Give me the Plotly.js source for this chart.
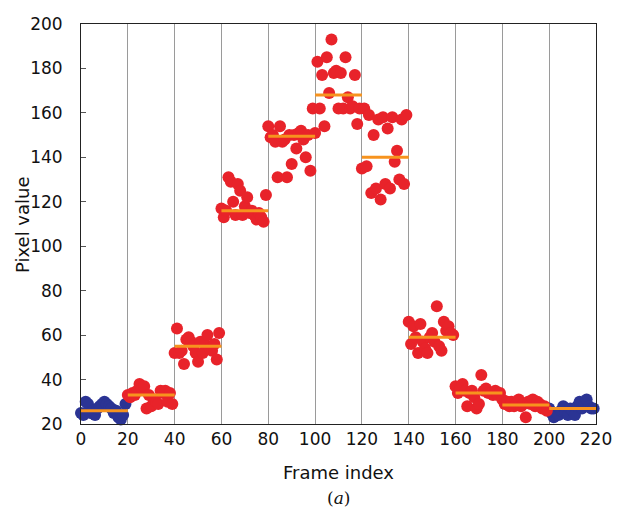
<!DOCTYPE html>
<html><head><meta charset="utf-8">
<script src="https://cdn.plot.ly/plotly-3.0.1.min.js"></script>
<style>html,body{margin:0;padding:0;background:#fff}#c{width:618px;height:507px}</style>
</head><body><div id="c"></div>
<script>
// Pixel values per frame (frames 0..219)
const blueStart = [25,24,30,29,25,26,24,27,28,29,30,29,28,27,25,26,23,22,24,29]; // frames 0-19
const redValues = [
  33,32,34,33,35,38,36,37,27,33,28,31,30,29,35,34,35,30,34,29,          // 20-39
  52,63,52,53,47,58,59,57,55,52,48,57,52,56,60,54,53,56,49,61,          // 40-59
  117,113,116,131,129,120,114,128,125,114,118,122,115,116,114,112,115,113,111,123, // 60-79
  154,149,150,147,131,154,147,148,131,150,137,150,144,151,152,148,140,150,134,162, // 80-99
  151,183,162,177,154,185,169,193,178,179,162,178,162,185,167,162,163,177,155,162, // 100-119
  135,162,136,159,124,150,126,157,121,158,128,153,126,158,138,143,130,157,128,159, // 120-139
  66,56,64,59,52,65,57,54,52,59,61,57,73,55,53,66,62,64,61,60,          // 140-159
  37,34,36,38,35,28,34,35,32,27,29,42,35,36,34,34,33,35,33,34,          // 160-179
  31,29,30,28,30,28,29,31,28,29,23,30,29,31,28,30,29,27,28,26           // 180-199
];
const blueEnd = [27,25,23,25,24,26,28,25,24,27,26,24,28,30,27,29,31,28,27,27]; // frames 200-219
// Segment means (orange lines)
const segStarts = [0,20,40,60,80,100,120,140,160,180,200];
const segMeans  = [26,33,55,116,149.5,168,140,59,34,28.5,27];
const xTicks = [0,20,40,60,80,100,120,140,160,180,200,220];
const yTicks = [20,40,60,80,100,120,140,160,180,200];

const bx = [], by = [];
blueStart.forEach((v,i)=>{bx.push(i); by.push(v);});
blueEnd.forEach((v,i)=>{bx.push(200+i); by.push(v);});
const rx = redValues.map((v,i)=>20+i);

const traces = [
  {x:bx, y:by, mode:'markers', type:'scatter', cliponaxis:false,
   marker:{color:'#2B3494', size:12}, hoverinfo:'none'},
  {x:rx, y:redValues, mode:'markers', type:'scatter', cliponaxis:false,
   marker:{color:'#E8232A', size:12}, hoverinfo:'none'}
];
const lx = [], ly = [];
segStarts.forEach((s,i)=>{lx.push(s, s+20, null); ly.push(segMeans[i], segMeans[i], null);});
traces.push({x:lx, y:ly, mode:'lines', type:'scatter', line:{color:'#F7931E', width:3}, hoverinfo:'none'});

const font = 'DejaVu Sans, Verdana, sans-serif';
const layout = {
  width:618, height:507, showlegend:false,
  paper_bgcolor:'#fff', plot_bgcolor:'#fff',
  margin:{l:81, r:22, t:24, b:83},
  font:{family:font, size:17, color:'#111'},
  xaxis:{range:[0,220], tickvals:xTicks, ticktext:xTicks.map(String),
    showgrid:true, gridcolor:'#9a9a9a', gridwidth:1, zeroline:false,
    showline:true, linecolor:'#222', linewidth:1, mirror:true,
    ticks:'', tickfont:{size:17, family:font},
    title:{text:'Frame index', font:{size:18, family:font}, standoff:17}},
  yaxis:{range:[20,200], tickvals:yTicks, ticktext:yTicks.map(String),
    showgrid:false, zeroline:false,
    showline:true, linecolor:'#222', linewidth:1, mirror:true,
    ticks:'inside', ticklen:5, tickcolor:'#555', ticklabelstandoff:14,
    tickfont:{size:17, family:font}},
  annotations:[
    {text:'Pixel value', xref:'paper', yref:'paper', x:-0.1146, y:0.5, textangle:-90,
     xanchor:'center', yanchor:'middle', showarrow:false,
     font:{family:font, size:18, color:'#111'}},
    {text:'(<i>a</i>)', xref:'paper', yref:'paper', x:0.5, y:-0.185,
     xanchor:'center', yanchor:'middle', showarrow:false,
     font:{family:'DejaVu Serif, Liberation Serif, serif', size:17, color:'#111'}}]
};
Plotly.newPlot('c', traces, layout, {staticPlot:true, displayModeBar:false});
</script></body></html>
